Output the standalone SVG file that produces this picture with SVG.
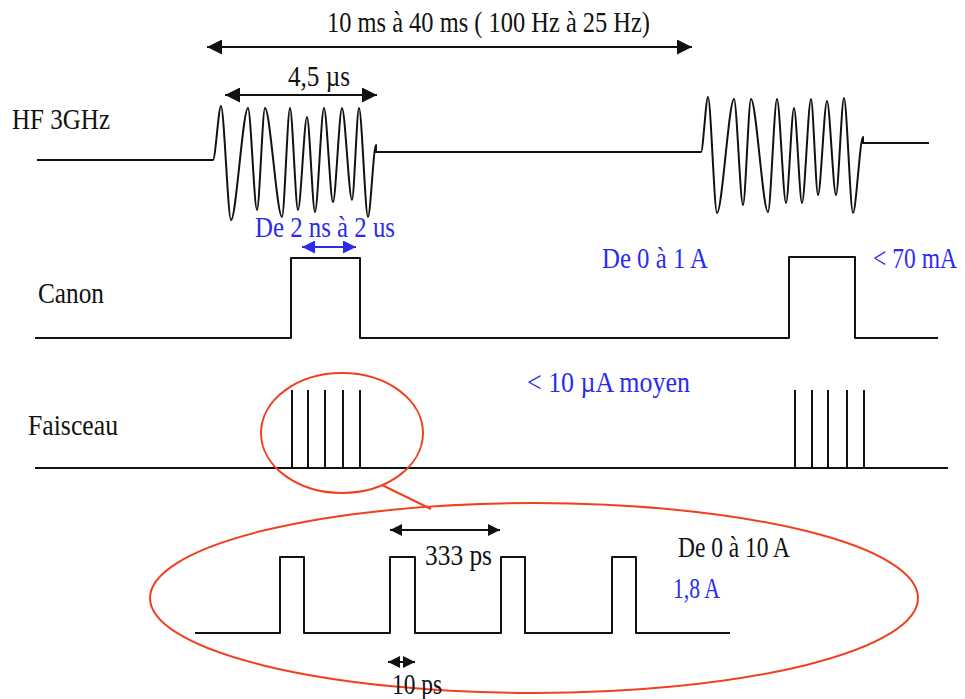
<svg xmlns="http://www.w3.org/2000/svg" width="965" height="699" viewBox="0 0 965 699">
<style>
.t{font-family:"Liberation Serif","Times New Roman",serif;font-size:29px;fill:#111}
.b{fill:#2b2bf0}
.sig{fill:none;stroke:#111;stroke-width:2;stroke-linejoin:round}
.red{fill:none;stroke:#f2401f;stroke-width:2}
.arr{stroke:#111;stroke-width:2;marker-start:url(#ah);marker-end:url(#ah)}
.arrs{stroke:#111;stroke-width:2;marker-start:url(#ahs);marker-end:url(#ahs)}
.arrb{stroke:#2b2bf0;stroke-width:2;marker-start:url(#ahb);marker-end:url(#ahb)}
</style>
<defs>
<marker id="ah" markerUnits="userSpaceOnUse" markerWidth="15" markerHeight="15" refX="15" refY="7.5" orient="auto-start-reverse"><path d="M0,0 L15,7.5 L0,15 Z" fill="#111"/></marker>
<marker id="ahs" markerUnits="userSpaceOnUse" markerWidth="12" markerHeight="12" refX="12" refY="6" orient="auto-start-reverse"><path d="M0,0 L12,6 L0,12 Z" fill="#111"/></marker>
<marker id="ahb" markerUnits="userSpaceOnUse" markerWidth="13" markerHeight="13" refX="13" refY="6.5" orient="auto-start-reverse"><path d="M0,0 L13,6.5 L0,13 Z" fill="#2b2bf0"/></marker>
</defs>
<rect width="965" height="699" fill="#fff"/>

<g id="hf">
<text class="t" x="12" y="129" textLength="98" lengthAdjust="spacingAndGlyphs">HF 3GHz</text>
<text class="t b" x="255" y="237" textLength="140" lengthAdjust="spacingAndGlyphs">De 2 ns à 2 us</text>
<path class="sig" d="M37,160 L213,160 C215.4,160 218.6,106 221,106 C224,106 228,220 231,220 C236.1,220 242.9,108 248,108 C250.7,108 254.3,210 257,210 C259.4,210 262.6,108 265,108 C270.1,108 276.9,217 282,217 C284.4,217 287.6,108 290,108 C292.4,108 295.6,210 298,210 C300.7,210 304.3,117 307,117 C309.4,117 312.6,212 315,212 C317.7,212 321.3,108 324,108 C326.7,108 330.3,202 333,202 C335.7,202 339.3,108 342,108 C345,108 349,200 352,200 C354.1,200 356.9,108 359,108 C361.7,108 365.3,217 368,217 C370.4,217 373.6,145 376,145 L376,152 L701,152 C703.1,152 705.9,97 708,97 C710.7,97 714.3,213 717,213 C722.1,213 728.9,99 734,99 C736.7,99 740.3,205 743,205 C745.4,205 748.6,99 751,99 C756.1,99 762.9,212 768,212 C770.7,212 774.3,99 777,99 C779.7,99 783.3,203 786,203 C788.4,203 791.6,108 794,108 C796.4,108 799.6,203 802,203 C804.7,203 808.3,99 811,99 C813.1,99 815.9,195 818,195 C820.7,195 824.3,101 827,101 C829.7,101 833.3,195 836,195 C838.4,195 841.6,98 844,98 C846.7,98 850.3,213 853,213 C856,213 860,137 863,137 L863,143 L929,143"/>
</g>

<g id="canon">
<text class="t" x="38" y="303" textLength="66" lengthAdjust="spacingAndGlyphs">Canon</text>
<text class="t b" x="602" y="268" textLength="106" lengthAdjust="spacingAndGlyphs">De 0 à 1 A</text>
<text class="t b" x="873" y="268" font-size="25" textLength="84" lengthAdjust="spacingAndGlyphs">&lt; 70 mA</text>
<path class="sig" d="M35,338 H291 V258 H360 V338 H789 V257 H855 V338 H938"/>
</g>

<g id="faisceau">
<text class="t" x="28" y="435" textLength="90" lengthAdjust="spacingAndGlyphs">Faisceau</text>
<text class="t b" x="527" y="392" textLength="163" lengthAdjust="spacingAndGlyphs">&lt; 10 µA moyen</text>
<path class="sig" d="M35,468 H948 M292,390 V468 M308,390 V468 M325,390 V468 M343,390 V468 M360,390 V468 M795,390 V468 M812,390 V468 M828,390 V468 M847,390 V468 M864,390 V468"/>
<ellipse class="red" cx="342" cy="433" rx="81" ry="60"/>
</g>

<g id="zoom">
<ellipse class="red" cx="534" cy="598" rx="384" ry="95"/>
<path class="sig" d="M195,633 H280 V557 H304 V633 H390 V557 H415 V633 H501 V557 H525 V633 H612 V557 H636 V633 H730"/>
<text class="t" x="425" y="565" textLength="67" lengthAdjust="spacingAndGlyphs">333 ps</text>
<text class="t" x="678" y="557" textLength="112" lengthAdjust="spacingAndGlyphs">De 0 à 10 A</text>
<text class="t b" x="673" y="598" textLength="47" lengthAdjust="spacingAndGlyphs">1,8 A</text>
<text class="t" x="392" y="694" textLength="50" lengthAdjust="spacingAndGlyphs">10 ps</text>
</g>

<g id="connectors">
<text class="t" x="327" y="32" textLength="323" lengthAdjust="spacingAndGlyphs">10 ms à 40 ms ( 100 Hz à 25 Hz)</text>
<line class="arr" x1="207" y1="47" x2="692" y2="47"/>
<text class="t" x="288" y="86" textLength="62" lengthAdjust="spacingAndGlyphs">4,5 µs</text>
<line class="arr" x1="225" y1="95" x2="377" y2="95"/>
<line class="arrb" x1="302" y1="247" x2="356" y2="247"/>
<line class="arrs" x1="390" y1="530" x2="500" y2="530"/>
<line class="arrs" x1="388" y1="662" x2="415" y2="662"/>
<line class="red" x1="382" y1="485" x2="431" y2="509"/>
</g>
</svg>
